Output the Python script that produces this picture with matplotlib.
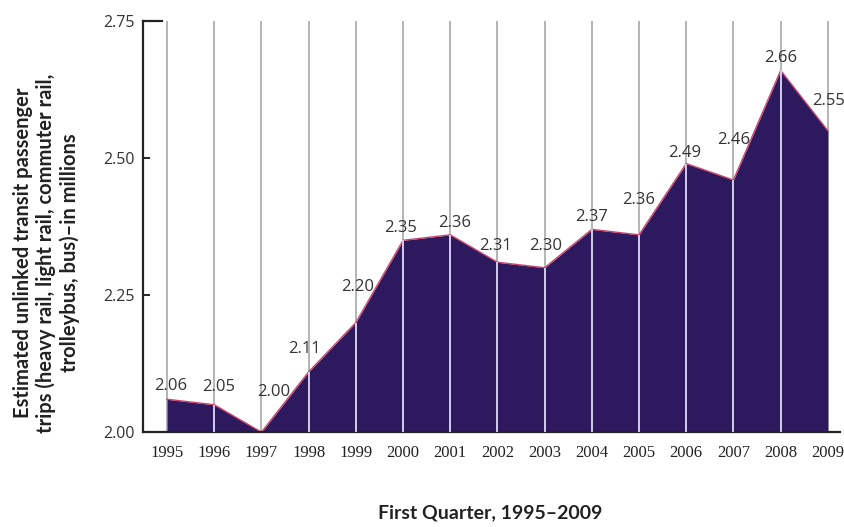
import numpy as np
import matplotlib.pyplot as plt

# first-quarter transit ridership
years = np.arange(1995, 2010)
trips = [2.06, 2.05, 2.00, 2.11, 2.20, 2.35, 2.36, 2.31, 2.30, 2.37,
         2.36, 2.49, 2.46, 2.66, 2.55]
yticks = [2.00, 2.25, 2.50, 2.75]

# where each value label sits relative to its point (pixels)
lab_off = [(4, 13), (4, 18), (12, 40), (-4, 23), (2, 36), (-2, 12), (4, 12),
           (-2, 16), (1, 22), (0, 12), (0, 35), (-2, 11), (0, 40), (0, 12),
           (1, 30)]

fill_col = '#2d1a5e'

fig = plt.figure(figsize=(8.45, 5.27), dpi=100)
ax = fig.add_axes([0.1692, 0.180, 0.825, 0.780])

for yr in years:
    ax.axvline(yr, color='#b4b4b4', lw=1.4, zorder=0)
ax.fill_between(years, 2.0, trips, color=fill_col, zorder=1, lw=0)
ax.plot(years, trips, color='#c8456e', lw=1.0, zorder=2)
ax.vlines(years[1:-1], 2.0, trips[1:-1], color='#d4cceb', lw=1.4, zorder=3)

for yr, v, (dx, dy) in zip(years, trips, lab_off):
    ax.annotate('%.2f' % v, (yr, v), xytext=(dx, dy),
                textcoords='offset pixels', ha='center', va='center',
                fontsize=12, color='#333333', family='Open Sans')

ax.set_xlim(1994.49, 2009.26)
ax.set_ylim(2.0, 2.75)
ax.set_xticks(years)
ax.set_xticklabels([str(y) for y in years], family='Liberation Serif',
                   fontsize=12, color='#222222')
ax.set_yticks(yticks)
ax.set_yticklabels(['%.2f' % t for t in yticks], family='Open Sans',
                   fontsize=11.5, color='#333333')
ax.tick_params(axis='x', length=0, pad=9)
ax.tick_params(axis='y', direction='in', length=5, width=1.2, pad=6)

for s in ['top', 'right']:
    ax.spines[s].set_visible(False)
ax.spines['left'].set_linewidth(1.6)
ax.spines['bottom'].set_linewidth(1.6)
ax.spines['left'].set_color('#222222')
ax.spines['bottom'].set_color('#222222')
ax.plot([0, 0.028], [1, 1], transform=ax.transAxes, color='#222222',
        lw=1.6, clip_on=False)

fig.text(0.055, 0.52,
         'Estimated unlinked transit passenger\n'
         'trips (heavy rail, light rail, commuter rail,\n'
         'trolleybus, bus)\u2013in millions',
         rotation=90, ha='center', va='center', multialignment='center',
         fontsize=14.5, fontweight='bold', family='Lato', color='#222222',
         linespacing=1.2)
fig.text(0.58, 0.027, 'First Quarter, 1995\u20132009', ha='center',
         va='center', fontsize=14, fontweight='bold', family='Lato',
         color='#222222')

fig.savefig('out.png', dpi=100)
